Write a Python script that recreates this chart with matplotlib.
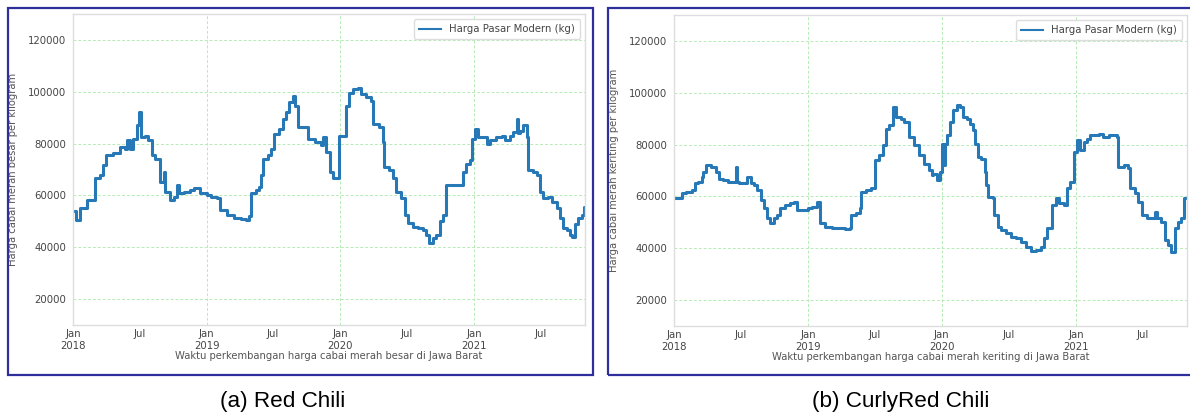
import pandas as pd
import matplotlib.pyplot as plt
import matplotlib.dates as mdates
from matplotlib import font_manager
from matplotlib.patches import Rectangle

# Harga cabai merah besar (Rp/kg), pasar modern Jawa Barat
besar_tanggal = [
    "2018-01-01", "2018-01-10", "2018-01-19", "2018-02-07", "2018-02-25", "2018-03-02",
    "2018-03-15", "2018-03-25", "2018-04-01", "2018-04-21", "2018-05-09", "2018-05-23",
    "2018-05-28", "2018-06-06", "2018-06-15", "2018-06-24", "2018-06-29", "2018-07-05",
    "2018-07-17", "2018-07-26", "2018-08-04", "2018-08-14", "2018-08-27", "2018-09-06",
    "2018-09-10", "2018-09-24", "2018-10-03", "2018-10-12", "2018-10-17", "2018-10-31",
    "2018-11-18", "2018-11-27", "2018-12-15", "2019-01-01", "2019-01-12", "2019-01-30",
    "2019-02-08", "2019-02-27", "2019-03-17", "2019-04-04", "2019-04-18", "2019-04-27",
    "2019-05-02", "2019-05-16", "2019-05-25", "2019-05-30", "2019-06-03", "2019-06-17",
    "2019-06-26", "2019-07-05", "2019-07-19", "2019-07-28", "2019-08-06", "2019-08-15",
    "2019-08-25", "2019-08-31", "2019-09-07", "2019-09-26", "2019-10-05", "2019-10-23",
    "2019-11-11", "2019-11-15", "2019-11-24", "2019-12-04", "2019-12-13", "2019-12-29",
    "2020-01-07", "2020-01-17", "2020-01-26", "2020-02-04", "2020-02-18", "2020-02-27",
    "2020-03-11", "2020-03-25", "2020-03-30", "2020-04-17", "2020-04-26", "2020-05-01",
    "2020-05-14", "2020-05-24", "2020-06-02", "2020-06-16", "2020-06-25", "2020-07-04",
    "2020-07-18", "2020-07-31", "2020-08-14", "2020-08-23", "2020-09-01", "2020-09-10",
    "2020-09-20", "2020-09-29", "2020-10-08", "2020-10-17", "2020-11-27", "2020-12-02",
    "2020-12-11", "2020-12-20", "2020-12-25", "2021-01-03", "2021-01-12", "2021-02-04",
    "2021-02-13", "2021-03-03", "2021-03-17", "2021-03-26", "2021-04-09", "2021-04-18",
    "2021-04-27", "2021-05-02", "2021-05-06", "2021-05-15", "2021-05-25", "2021-05-29",
    "2021-06-12", "2021-06-21", "2021-06-30", "2021-07-09", "2021-07-23", "2021-08-01",
    "2021-08-15", "2021-08-24", "2021-09-02", "2021-09-11", "2021-09-21", "2021-09-25",
    "2021-10-04", "2021-10-13", "2021-10-23", "2021-10-27", "2021-10-31",
]
besar_harga = [
    53800, 50600, 55000, 58300, 58300, 66600,
    68000, 71700, 75500, 76500, 78700, 77800,
    81200, 78000, 81900, 87000, 92000, 82500,
    83000, 81200, 75500, 74200, 65300, 69000,
    61500, 58300, 59500, 64000, 60800, 61500,
    62100, 62700, 60800, 60200, 59500, 58900,
    54400, 52500, 51300, 51000, 50600, 51900,
    60800, 62100, 63400, 67800, 74200, 75500,
    78100, 83800, 85700, 89500, 92000, 95900,
    98200, 94600, 86300, 86300, 81900, 80600,
    79300, 82500, 76800, 69100, 66600, 83000,
    83000, 94600, 99700, 101000, 101300, 99100,
    97800, 96600, 87600, 86300, 80600, 71000,
    69700, 66600, 61500, 58900, 52500, 49300,
    48000, 47400, 46800, 44800, 41700, 43600,
    44800, 50000, 52500, 64000, 64000, 69100,
    72300, 73600, 81900, 85700, 82500, 80000,
    81200, 82500, 83100, 81200, 83000, 84400,
    89500, 84000, 85000, 87000, 82500, 69700,
    69100, 67800, 61500, 58900, 59500, 57600,
    55000, 51200, 47400, 46800, 44800, 43800,
    48900, 51300, 52500, 55700, 55700,
]

# Harga cabai merah keriting (Rp/kg), pasar modern Jawa Barat
keriting_tanggal = [
    "2018-01-01", "2018-01-22", "2018-02-04", "2018-02-18", "2018-02-27", "2018-03-08",
    "2018-03-17", "2018-03-21", "2018-03-30", "2018-04-13", "2018-04-26", "2018-05-05",
    "2018-05-14", "2018-05-28", "2018-06-19", "2018-06-22", "2018-06-28", "2018-07-20",
    "2018-07-29", "2018-08-07", "2018-08-16", "2018-08-25", "2018-09-03", "2018-09-12",
    "2018-09-21", "2018-09-30", "2018-10-09", "2018-10-18", "2018-11-01", "2018-11-14",
    "2018-11-23", "2018-12-02", "2019-01-01", "2019-01-12", "2019-01-25", "2019-02-03",
    "2019-02-17", "2019-03-07", "2019-04-12", "2019-04-25", "2019-04-30", "2019-05-13",
    "2019-05-22", "2019-05-27", "2019-06-09", "2019-06-23", "2019-07-02", "2019-07-15",
    "2019-07-24", "2019-08-02", "2019-08-11", "2019-08-20", "2019-08-29", "2019-09-12",
    "2019-09-20", "2019-10-04", "2019-10-17", "2019-10-31", "2019-11-13", "2019-11-27",
    "2019-12-06", "2019-12-09", "2019-12-18", "2019-12-27", "2020-01-01", "2020-01-07",
    "2020-01-10", "2020-01-15", "2020-01-24", "2020-02-02", "2020-02-11", "2020-02-20",
    "2020-02-29", "2020-03-09", "2020-03-18", "2020-03-27", "2020-03-31", "2020-04-09",
    "2020-04-18", "2020-04-27", "2020-05-02", "2020-05-06", "2020-05-20", "2020-05-24",
    "2020-06-02", "2020-06-11", "2020-06-25", "2020-07-08", "2020-07-22", "2020-08-04",
    "2020-08-18", "2020-08-31", "2020-09-14", "2020-09-27", "2020-10-06", "2020-10-15",
    "2020-10-29", "2020-11-07", "2020-11-16", "2020-11-29", "2020-12-08", "2020-12-17",
    "2020-12-26", "2021-01-04", "2021-01-13", "2021-01-22", "2021-01-31", "2021-02-09",
    "2021-03-04", "2021-03-17", "2021-03-31", "2021-04-14", "2021-04-23", "2021-04-27",
    "2021-05-11", "2021-05-24", "2021-05-28", "2021-06-11", "2021-06-20", "2021-06-29",
    "2021-07-13", "2021-08-04", "2021-08-09", "2021-08-22", "2021-08-31", "2021-09-09",
    "2021-09-18", "2021-09-27", "2021-10-06", "2021-10-15", "2021-10-24", "2021-10-31",
]
keriting_harga = [
    59200, 61200, 61800, 62400, 65000, 65600,
    67600, 69500, 72100, 71400, 69500, 66900,
    66300, 65600, 71400, 65600, 65000, 67600,
    65000, 64400, 62400, 58600, 55400, 51500,
    49600, 51500, 52800, 55400, 56700, 57300,
    57900, 54700, 55400, 56000, 57900, 49600,
    48300, 47700, 47400, 47700, 52800, 53500,
    55400, 61800, 62400, 63100, 74000, 75900,
    79700, 86200, 87400, 94500, 90600, 90000,
    88700, 83000, 79700, 75900, 72700, 70100,
    68200, 68800, 66300, 69500, 80400, 72100,
    80400, 83600, 88700, 93200, 95400, 94500,
    90600, 90000, 88100, 85500, 80400, 75300,
    74600, 69500, 64400, 59900, 59200, 52800,
    48300, 47000, 45800, 44500, 43900, 42600,
    40600, 39000, 39400, 40600, 43900, 47700,
    56700, 59200, 57300, 56700, 63100, 65600,
    77200, 81700, 77800, 81000, 82300, 83600,
    84200, 82900, 83600, 83800, 82900, 71400,
    72100, 70800, 63100, 61200, 57900, 52800,
    51500, 54100, 51500, 50300, 43200, 41300,
    38700, 47700, 50300, 51500, 59200, 59200,
]

panels = [
    {
        "tanggal": besar_tanggal,
        "harga": besar_harga,
        "ylabel": "Harga cabai merah besar per kilogram",
        "xlabel": "Waktu perkembangan harga cabai merah besar di Jawa Barat",
        "caption": "(a) Red Chili",
        "axes": [73 / 1190, 1 - 325 / 417, 512 / 1190, 311 / 417],
        "frame": (8, 593),
        "caption_x": 283,
    },
    {
        "tanggal": keriting_tanggal,
        "harga": keriting_harga,
        "ylabel": "Harga cabai merah keriting per kilogram",
        "xlabel": "Waktu perkembangan harga cabai merah keriting di Jawa Barat",
        "caption": "(b) CurlyRed Chili",
        "axes": [674 / 1190, 1 - 326 / 417, 513 / 1190, 311 / 417],
        "frame": (608, 1196),
        "caption_x": 901,
    },
]

# regular-width Liberation Sans for the captions (skip the Narrow cut)
caption_font = None
for f in font_manager.fontManager.ttflist:
    if (f.name == "Liberation Sans" and f.style == "normal" and f.weight == 400
            and "Narrow" not in f.fname):
        caption_font = font_manager.FontProperties(fname=f.fname, size=16.2)
        break
if caption_font is None:
    caption_font = font_manager.FontProperties(family="DejaVu Sans", size=15)

W, H = 1190, 417
fig = plt.figure(figsize=(W / 100, H / 100), dpi=100)
fig.patch.set_facecolor("white")

line_color = "#2678b6"
tick_color = "#444444"
grid_color = "#b6ebb6"


def jan_format(x, pos=None):
    d = mdates.num2date(x)
    return f"Jan\n{d.year}"


for p in panels:
    # blue frame around each sub-figure
    x0, x1 = p["frame"]
    fig.patches.append(Rectangle((x0 / W, 1 - 375 / H), (x1 - x0) / W, (375 - 8) / H,
                                 transform=fig.transFigure, fill=False,
                                 edgecolor="#2f2f9c", linewidth=1.6, zorder=0))

    ax = fig.add_axes(p["axes"])
    t = pd.to_datetime(p["tanggal"])
    ax.plot(t, p["harga"], drawstyle="steps-post", color=line_color,
            linewidth=2.2, label="Harga Pasar Modern (kg)")

    ax.set_xlim(t[0], t[-1])
    ax.set_ylim(10000, 130000)
    ax.set_yticks([20000, 40000, 60000, 80000, 100000, 120000])

    ax.xaxis.set_major_locator(mdates.YearLocator())
    ax.xaxis.set_major_formatter(plt.FuncFormatter(jan_format))
    ax.xaxis.set_minor_locator(mdates.MonthLocator(bymonth=7))
    ax.xaxis.set_minor_formatter(mdates.DateFormatter("%b"))

    ax.tick_params(which="both", length=0, labelsize=7.3, colors=tick_color, pad=5)
    ax.tick_params(axis="x", which="both", pad=3)
    ax.grid(True, which="major", linestyle=(0, (3, 2)), color=grid_color, linewidth=0.7)
    ax.set_axisbelow(True)
    for s in ax.spines.values():
        s.set_color("#dddddd")
        s.set_linewidth(1.0)

    ax.set_ylabel(p["ylabel"], fontsize=7.2, color="#555555", labelpad=7)
    ax.set_xlabel(p["xlabel"], fontsize=7.2, color="#555555", labelpad=0)

    leg = ax.legend(loc="upper right", fontsize=7.3, handlelength=2.2,
                    borderpad=0.5, framealpha=1.0, fancybox=True)
    leg.get_frame().set_edgecolor("#dddddd")
    for ln in leg.get_lines():
        ln.set_linewidth(1.5)
    for txt in leg.get_texts():
        txt.set_color(tick_color)

    fig.text(p["caption_x"] / W, 1 - 401 / H, p["caption"], ha="center", va="center",
             fontproperties=caption_font, color="black")

fig.savefig("out.png", dpi=100)
